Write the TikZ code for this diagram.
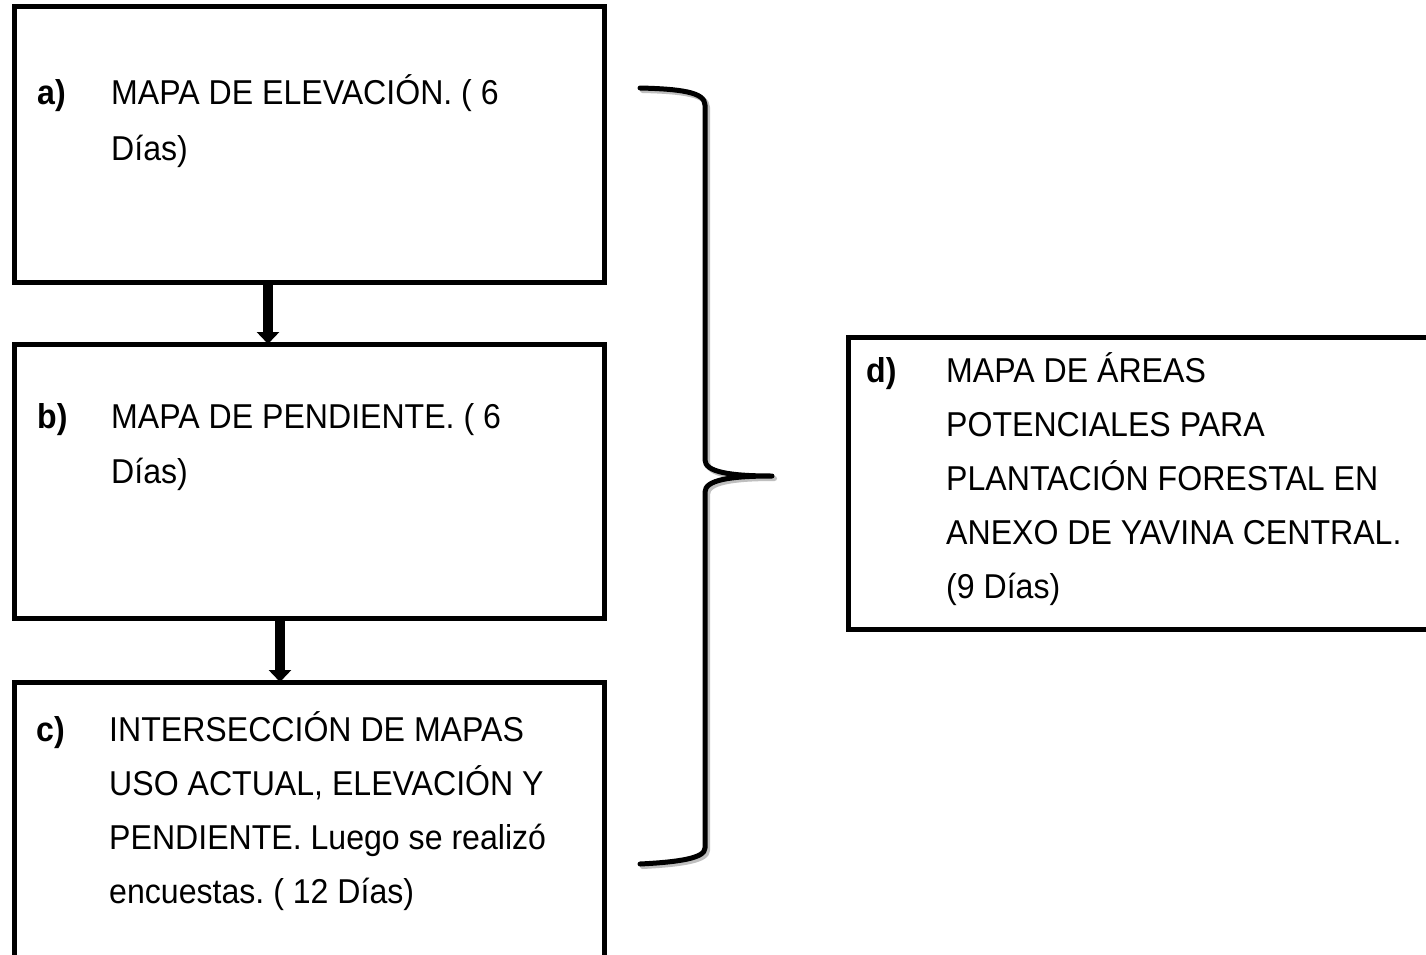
\documentclass[tikz,border=0pt]{standalone}
\usepackage{fontspec}
\setmainfont{Liberation Sans}[FakeStretch=0.93]
\usetikzlibrary{arrows.meta}
\frenchspacing
\begin{document}
\begin{tikzpicture}[x=1pt,y=-1pt,
  box/.style={draw=black, line width=5pt, inner sep=0pt, outer sep=0pt},
  txt/.style={anchor=base west, inner sep=0pt, font=\fontsize{34.5}{40}\selectfont},
  lbl/.style={anchor=base west, inner sep=0pt, font=\fontsize{34.5}{40}\selectfont\bfseries},
  flow/.style={line width=10pt, -{Triangle[width=22pt,length=12pt]}},
  bracestyle/.style={line width=5pt, line join=round, line cap=round}]
\useasboundingbox (0,0) rectangle (1426,955);
\clip (0,0) rectangle (1426,955);
\fill[white] (0,0) rectangle (1426,955);

% boxes
\node[box, minimum width=590pt, minimum height=275pt] (a) at (309,144.5) {};
\node[box, minimum width=590pt, minimum height=274pt] (b) at (309,481) {};
\node[box, minimum width=590pt, minimum height=400pt] (c) at (309,882) {};
\node[box, minimum width=620pt, minimum height=292pt] (d) at (1158,483) {};

% arrows
\coordinate (x1) at (268,0);
\coordinate (x2) at (280,0);
\draw[flow] (a.south -| x1) -- (b.north -| x1);
\draw[flow] (b.south -| x2) -- (c.north -| x2);

% brace
\coordinate (br1) at (640,88);
\coordinate (br2) at (705,105);
\coordinate (br3) at (705,460);
\coordinate (tip) at (772,476);
\coordinate (br4) at (705,492);
\coordinate (br5) at (705,848);
\coordinate (br6) at (640,864);
\begin{scope}[shift={(2.5,2.5)}]
\draw[bracestyle, black!25] (640,88) .. controls (680,89) and (705,92) .. (705,105)
  -- (705,460) .. controls (705,472) and (730,476) .. (772,476)
  .. controls (730,476) and (705,480) .. (705,492)
  -- (705,848) .. controls (705,858) and (680,862) .. (640,864);
\end{scope}
\draw[bracestyle] (br1) .. controls (680,89) and (705,92) .. (br2)
  -- (br3) .. controls (705,472) and (730,476) .. (tip)
  .. controls (730,476) and (705,480) .. (br4)
  -- (br5) .. controls (705,858) and (680,862) .. (br6);

% texts a
\node[lbl] (la) at (37,105) {a)};
\node[txt] (ta1) at (111,105) {MAPA DE ELEVACIÓN. ( 6};
\node[txt] (ta2) at (111,160) {Días)};
% texts b
\node[lbl] (lb) at (37,428) {b)};
\node[txt] (tb1) at (111,428) {MAPA DE PENDIENTE. ( 6};
\node[txt] (tb2) at (111,483) {Días)};
% texts c
\node[lbl] (lc) at (36,741) {c)};
\node[txt] (tc1) at (109,741) {INTERSECCIÓN DE MAPAS};
\node[txt] (tc2) at (109,795) {USO ACTUAL, ELEVACIÓN Y};
\node[txt] (tc3) at (109,849) {PENDIENTE. Luego se realizó};
\node[txt] (tc4) at (109,903) {encuestas. ( 12 Días)};
% texts d
\node[lbl] (ld) at (866,382) {d)};
\node[txt] (td1) at (946,382) {MAPA DE ÁREAS};
\node[txt] (td2) at (946,436) {POTENCIALES PARA};
\node[txt] (td3) at (946,490) {PLANTACIÓN FORESTAL EN};
\node[txt] (td4) at (946,544) {ANEXO DE YAVINA CENTRAL.};
\node[txt] (td5) at (946,598) {(9 Días)};
\end{tikzpicture}
\end{document}
